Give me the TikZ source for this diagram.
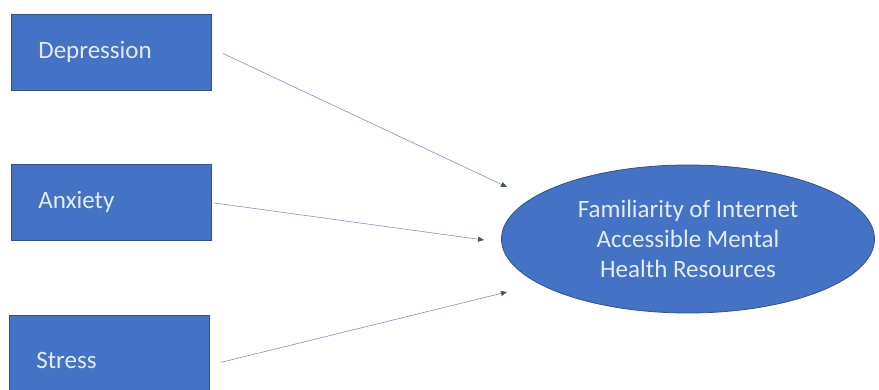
\documentclass[tikz,border=0pt]{standalone}
\usepackage{fontspec}
\setmainfont{Carlito}
\usetikzlibrary{positioning,arrows.meta,shapes.geometric}

\definecolor{boxblue}{HTML}{4472C4}
\definecolor{boxedge}{HTML}{2F528F}
\definecolor{boxtext}{HTML}{E4ECF8}
\definecolor{linkline}{HTML}{7C95C9}
\definecolor{linktip}{HTML}{44546A}

\begin{document}
\begin{tikzpicture}[
    x=1pt, y=-1pt,
    every node/.style={font=\fontsize{25}{30}\selectfont, text=boxtext},
    factorbox/.style={draw=boxedge, line width=0.8pt, fill=boxblue, anchor=north west,
        minimum width=200pt, minimum height=76pt, text width=146pt, align=left,
        inner xsep=27pt, inner ysep=0pt},
    outcome/.style={ellipse, draw=boxedge, line width=0.8pt, fill=boxblue,
        minimum width=373pt, minimum height=148pt, inner sep=0pt, align=center},
    link/.style={draw=linkline, line width=0.6pt,
        -{Triangle[length=6pt, width=5pt, color=linktip]}}
]
\useasboundingbox (0,0) rectangle (879,390);
\fill[white] (0,0) rectangle (879,390);

% Predictors
\node[factorbox] (dep) at (11,14) {Depression};
\node[factorbox] (anx) at (11,164) {Anxiety};
\node[factorbox, minimum height=90pt] (str) at (9,315) {Stress};

% Outcome
\node[outcome] (fam) at (688,239) {Familiarity of Internet\\Accessible Mental\\Health Resources};

% Arrow ends in front of the ellipse
\coordinate (inDep) at (507,187);
\coordinate (inAnx) at (484,240);
\coordinate (inStr) at (507,292);

% Links
\draw[link] ([shift={(11,1)}]dep.east) -- (inDep);
\draw[link] ([shift={(2,0.5)}]anx.east) -- (inAnx);
\draw[link] ([shift={(11,2)}]str.east) -- (inStr);

\end{tikzpicture}
\end{document}
